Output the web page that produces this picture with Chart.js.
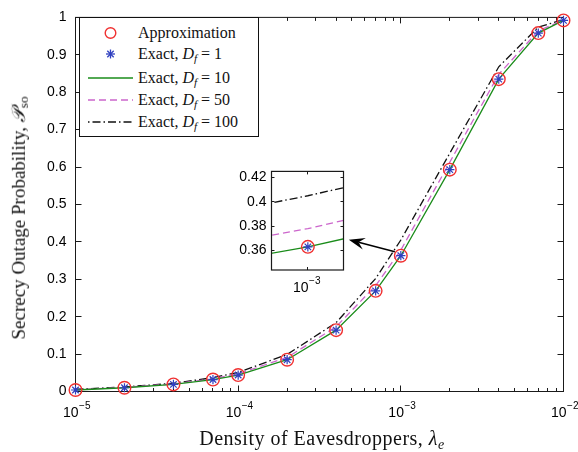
<!DOCTYPE html>
<html>
<head>
<meta charset="utf-8">
<script src="https://cdn.jsdelivr.net/npm/chart.js@4.4.1/dist/chart.umd.min.js"></script>
<style>
  html, body { margin:0; padding:0; background:#fff; }
  #wrap { position:relative; width:578px; height:452px; overflow:hidden; background:#fff; }
  #main { position:absolute; left:0; top:0; }
  #inset { position:absolute; left:222px; top:158px; }
  .serif { font-family:"Liberation Serif","DejaVu Serif",serif; color:#111; }
  #legend { position:absolute; left:79px; top:17px; width:178px; height:118px; border:1px solid #111; background:#fff; }
  .row { position:absolute; left:0; height:20px; width:178px; }
  .row svg { position:absolute; left:8px; top:4px; }
  .row span { position:absolute; left:58px; top:0; line-height:20px; font-size:16px; white-space:nowrap; }
  i sub, sub { font-size:70%; vertical-align:-0.25em; }
  #xtitle { position:absolute; left:322px; top:440px; transform:translate(-50%,-50%); font-size:20px; letter-spacing:0.5px; white-space:nowrap; }
  #ytitle { position:absolute; left:20px; top:218px; transform:translate(-50%,-50%) rotate(-90deg); font-size:19px; white-space:nowrap; }
</style>
</head>
<body>
<div id="wrap">
  <canvas id="main" width="578" height="452"></canvas>
  <canvas id="inset" width="130" height="140"></canvas>
  <div id="legend" class="serif"></div>
  <div id="xtitle" class="serif">Density of Eavesdroppers, <i>λ<sub>e</sub></i></div>
  <div id="ytitle" class="serif">Secrecy Outage Probability, <i>𝒫</i><sub>so</sub></div>
</div>
<script>
// ---- data ----
const lambdaE      = [1e-5, 2e-5, 4e-5, 7e-5, 1e-4, 2e-4, 4e-4, 7e-4, 1e-3, 2e-3, 4e-3, 7e-3, 1e-2];
const approximation= [0.004, 0.010, 0.019, 0.032, 0.044, 0.085, 0.164, 0.269, 0.363, 0.593, 0.835, 0.958, 0.992];
const exactDf1     = [0.004, 0.010, 0.019, 0.032, 0.044, 0.085, 0.164, 0.269, 0.363, 0.593, 0.835, 0.958, 0.992];
const exactDf10    = [0.004, 0.010, 0.019, 0.032, 0.044, 0.085, 0.164, 0.269, 0.363, 0.593, 0.835, 0.958, 0.992];
const exactDf50    = [0.005, 0.011, 0.020, 0.034, 0.047, 0.091, 0.173, 0.283, 0.378, 0.613, 0.848, 0.964, 0.993];
const exactDf100   = [0.006, 0.012, 0.022, 0.037, 0.051, 0.099, 0.184, 0.302, 0.405, 0.637, 0.868, 0.974, 0.994];

const yTickValues  = [0, 0.1, 0.2, 0.3, 0.4, 0.5, 0.6, 0.7, 0.8, 0.9, 1];
const yTickLabels  = ['0', '0.1', '0.2', '0.3', '0.4', '0.5', '0.6', '0.7', '0.8', '0.9', '1'];
const xTickValues  = [1e-5, 1e-4, 1e-3, 1e-2];
const xTickExponents = ['\u22125', '\u22124', '\u22123', '\u22122'];
const insetYTickValues = [0.36, 0.38, 0.4, 0.42];
const insetYTickLabels = ['0.36', '0.38', '0.4', '0.42'];
const insetXTickValues = [1e-3];
const insetXTickExponents = ['\u22123'];
const seriesNames = ['Approximation', 'Exact, <i>D<sub>f</sub></i> = 1', 'Exact, <i>D<sub>f</sub></i> = 10',
                     'Exact, <i>D<sub>f</sub></i> = 50', 'Exact, <i>D<sub>f</sub></i> = 100'];

// ---- styles ----
const RED = '#f03030', BLUE = '#3040c0', GREEN = '#1a8c1a', MAGENTA = '#cc66cc', BLACK = '#111';
const SANS = '"Liberation Sans", Arial, sans-serif';

const pts = arr => lambdaE.map((x, i) => ({ x, y: arr[i] }));

function makeDatasets(clip) {
  return [
    { label:'Exact, Df = 100', data: pts(exactDf100), borderColor: BLACK, borderWidth: 1.3,
      borderDash:[8,3,1.5,3], pointRadius:0, fill:false, tension:0, order:5, clip },
    { label:'Exact, Df = 50', data: pts(exactDf50), borderColor: MAGENTA, borderWidth: 1.3,
      borderDash:[7,4], pointRadius:0, fill:false, tension:0, order:4, clip },
    { label:'Exact, Df = 10', data: pts(exactDf10), borderColor: GREEN, borderWidth: 1.3,
      pointRadius:0, fill:false, tension:0, order:3, clip },
    { label:'Approximation', data: pts(approximation), showLine:false, pointStyle:'circle',
      pointRadius:6.3, pointBorderWidth:1.4, pointBorderColor: RED, pointBackgroundColor:'rgba(0,0,0,0)',
      borderColor: RED, order:2, clip },
    { label:'Exact, Df = 1', data: pts(exactDf1), showLine:false, pointStyle:'star',
      pointRadius:4.6, pointBorderWidth:1.2, pointBorderColor: BLUE, pointBackgroundColor: BLUE,
      borderColor: BLUE, order:1, clip }
  ];
}

function line(ctx, x1, y1, x2, y2) { ctx.beginPath(); ctx.moveTo(x1, y1); ctx.lineTo(x2, y2); ctx.stroke(); }

function drawPow(ctx, px, py, exp, big, small) {
  ctx.font = big + 'px ' + SANS;
  const w10 = ctx.measureText('10').width;
  ctx.font = small + 'px ' + SANS;
  const we = ctx.measureText(exp).width;
  const x0 = px - (w10 + we) / 2 + 1;
  ctx.fillStyle = '#000';
  ctx.textBaseline = 'middle';
  ctx.textAlign = 'left';
  ctx.font = big + 'px ' + SANS;
  ctx.fillText('10', x0, py);
  ctx.font = small + 'px ' + SANS;
  ctx.fillText(exp, x0 + w10 + 0.5, py - big * 0.5);
}

const mainPlugin = {
  id: 'mainFrame',
  beforeDatasetsDraw(chart) {
    const { ctx, chartArea: a, scales: { x, y } } = chart;
    ctx.save();
    ctx.strokeStyle = '#1a1a1a';
    ctx.lineWidth = 1;
    ctx.strokeRect(a.left, a.top, a.right - a.left, a.bottom - a.top);
    yTickValues.forEach(v => {
      const py = Math.round(y.getPixelForValue(v) - 0.5) + 0.5;
      line(ctx, a.left, py, a.left + 6, py);
      line(ctx, a.right, py, a.right - 6, py);
    });
    for (let d = -5; d <= -3; d++) {
      for (let m = 1; m <= 9; m++) {
        const v = m * Math.pow(10, d);
        const px = Math.round(x.getPixelForValue(v) - 0.5) + 0.5;
        const len = m === 1 ? 6 : 3.5;
        line(ctx, px, a.bottom, px, a.bottom - len);
        line(ctx, px, a.top, px, a.top + len);
      }
    }
    ctx.restore();
  },
  afterDraw(chart) {
    const { ctx, chartArea: a, scales: { x, y } } = chart;
    ctx.save();
    xTickValues.forEach((v, i) => drawPow(ctx, x.getPixelForValue(v), a.bottom + 22, xTickExponents[i], 14, 10));
    // annotation arrow pointing to the zoomed inset
    const px = x.getPixelForValue(lambdaE[8]), py = y.getPixelForValue(approximation[8]);
    const tx = px - 6, ty = py - 4;
    const hx = px - 52, hy = py - 16;
    ctx.strokeStyle = '#000'; ctx.fillStyle = '#000'; ctx.lineWidth = 1.4;
    const ang = Math.atan2(hy - ty, hx - tx);
    const L = 14, W = 6;
    const bx = hx - L * Math.cos(ang), by = hy - L * Math.sin(ang);
    line(ctx, tx, ty, bx + 4 * Math.cos(ang), by + 4 * Math.sin(ang));
    const nx = -Math.sin(ang), ny = Math.cos(ang);
    ctx.beginPath();
    ctx.moveTo(hx, hy);
    ctx.lineTo(bx - 2 * Math.cos(ang) + W * nx, by - 2 * Math.sin(ang) + W * ny);
    ctx.lineTo(bx + 4 * Math.cos(ang), by + 4 * Math.sin(ang));
    ctx.lineTo(bx - 2 * Math.cos(ang) - W * nx, by - 2 * Math.sin(ang) - W * ny);
    ctx.closePath();
    ctx.fill();
    ctx.restore();
  }
};

new Chart(document.getElementById('main'), {
  type: 'line',
  data: { datasets: makeDatasets(false) },
  options: {
    responsive: false, animation: false, events: [], devicePixelRatio: 1,
    layout: { padding: { top: 14.5, right: 14.5, left: 0, bottom: 0 } },
    plugins: { legend: { display: false }, tooltip: { enabled: false } },
    scales: {
      x: { type: 'logarithmic', min: 1e-5, max: 1e-2,
           grid: { display: false, drawTicks: false }, border: { display: false },
           ticks: { display: false },
           afterFit: s => { s.height = 60.5; } },
      y: { type: 'linear', min: 0, max: 1,
           grid: { display: false, drawTicks: false }, border: { display: false },
           afterBuildTicks: s => { s.ticks = yTickValues.map(v => ({ value: v })); },
           ticks: { color: '#000', padding: 9, font: { size: 14, family: SANS },
                    callback: (v, i) => yTickLabels[i] },
           afterFit: s => { s.width = 75.5; } }
    }
  },
  plugins: [mainPlugin]
});

const insetPlugin = {
  id: 'insetFrame',
  beforeDatasetsDraw(chart) {
    const { ctx, chartArea: a } = chart;
    ctx.save();
    ctx.fillStyle = '#fff';
    ctx.fillRect(a.left, a.top, a.right - a.left, a.bottom - a.top);
    ctx.restore();
  },
  afterDraw(chart) {
    const { ctx, chartArea: a, scales: { x, y } } = chart;
    ctx.save();
    ctx.strokeStyle = '#1a1a1a';
    ctx.lineWidth = 1.2;
    ctx.strokeRect(a.left, a.top, a.right - a.left, a.bottom - a.top);
    ctx.lineWidth = 1;
    insetYTickValues.forEach(v => {
      const py = Math.round(y.getPixelForValue(v) - 0.5) + 0.5;
      line(ctx, a.left, py, a.left + 3, py);
      line(ctx, a.right, py, a.right - 3, py);
    });
    insetXTickValues.forEach((v, i) => {
      const px = Math.round(x.getPixelForValue(v) - 0.5) + 0.5;
      line(ctx, px, a.bottom, px, a.bottom - 3);
      line(ctx, px, a.top, px, a.top + 3);
      drawPow(ctx, px - 2, a.bottom + 18, insetXTickExponents[i], 14, 10);
    });
    ctx.restore();
  }
};

new Chart(document.getElementById('inset'), {
  type: 'line',
  data: { datasets: makeDatasets(0) },
  options: {
    responsive: false, animation: false, events: [], devicePixelRatio: 1,
    layout: { padding: { top: 7, right: 8.5, left: 0, bottom: 0 } },
    plugins: { legend: { display: false }, tooltip: { enabled: false } },
    scales: {
      x: { type: 'logarithmic', min: 0.00098, max: 0.00102,
           grid: { display: false, drawTicks: false }, border: { display: false },
           ticks: { display: false },
           afterFit: s => { s.height = 28; } },
      y: { type: 'linear', min: 0.344, max: 0.425,
           grid: { display: false, drawTicks: false }, border: { display: false },
           afterBuildTicks: s => { s.ticks = insetYTickValues.map(v => ({ value: v })); },
           ticks: { color: '#000', padding: 5, font: { size: 14, family: SANS },
                    callback: (v, i) => insetYTickLabels[i] },
           afterFit: s => { s.width = 49.5; } }
    }
  },
  plugins: [insetPlugin]
});

// ---- legend (HTML) ----
const legendSamples = [
  '<svg width="46" height="12"><circle cx="22.5" cy="6" r="5.3" fill="none" stroke="' + RED + '" stroke-width="1.4"/></svg>',
  '<svg width="46" height="12"><g stroke="' + BLUE + '" stroke-width="1.3"><line x1="22.5" y1="1.5" x2="22.5" y2="10.5"/><line x1="18" y1="6" x2="27" y2="6"/><line x1="19.3" y1="2.8" x2="25.7" y2="9.2"/><line x1="19.3" y1="9.2" x2="25.7" y2="2.8"/></g></svg>',
  '<svg width="46" height="12"><line x1="0" y1="6" x2="45" y2="6" stroke="' + GREEN + '" stroke-width="1.4"/></svg>',
  '<svg width="46" height="12"><line x1="0" y1="6" x2="45" y2="6" stroke="' + MAGENTA + '" stroke-width="1.4" stroke-dasharray="7,4"/></svg>',
  '<svg width="46" height="12"><line x1="0" y1="6" x2="45" y2="6" stroke="' + BLACK + '" stroke-width="1.4" stroke-dasharray="1.5,3,8,3"/></svg>'
];
const legendRowCenters = [14.7, 36.3, 59.7, 82, 103.7];
const legend = document.getElementById('legend');
seriesNames.forEach((name, i) => {
  const row = document.createElement('div');
  row.className = 'row';
  row.style.top = (legendRowCenters[i] - 10) + 'px';
  row.innerHTML = legendSamples[i] + '<span>' + name + '</span>';
  legend.appendChild(row);
});
</script>
</body>
</html>
